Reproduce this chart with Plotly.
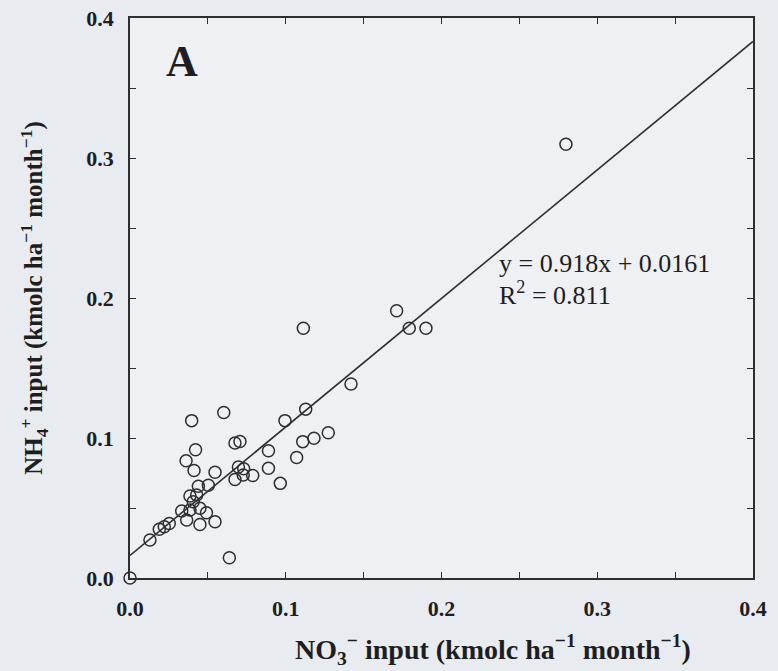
import plotly.graph_objects as go

# NO3- input (x) and NH4+ input (y), kmolc ha-1 month-1
no3_input = [0.000, 0.0128, 0.0188, 0.0220, 0.0252, 0.0332, 0.0364, 0.0385, 0.0449, 0.0449,
             0.0491, 0.0546, 0.0406, 0.0385, 0.0428, 0.0439, 0.0503, 0.0638, 0.0674, 0.0727,
             0.0788, 0.0696, 0.0730, 0.0546, 0.0411, 0.0360, 0.0421, 0.0396, 0.0602, 0.0674,
             0.0706, 0.0889, 0.0889, 0.0965, 0.1070, 0.0995, 0.1128, 0.1109, 0.1181, 0.1273,
             0.1419, 0.1113, 0.1712, 0.1793, 0.1900, 0.2799]
nh4_input = [0.000, 0.0271, 0.0348, 0.0366, 0.0389, 0.0479, 0.0414, 0.0486, 0.0382, 0.0498,
             0.0466, 0.0402, 0.0545, 0.0586, 0.0593, 0.0655, 0.0662, 0.0145, 0.0704, 0.0736,
             0.0732, 0.0793, 0.0780, 0.0755, 0.0768, 0.0838, 0.0916, 0.1124, 0.1182, 0.0964,
             0.0975, 0.0909, 0.0784, 0.0676, 0.0861, 0.1124, 0.1206, 0.0974, 0.0998, 0.1038,
             0.1386, 0.1784, 0.1909, 0.1784, 0.1784, 0.3098]

slope = 0.918
intercept = 0.0161
r_squared = 0.811
fit_x = [0.0, 0.4]
fit_y = [slope * v + intercept for v in fit_x]

tick_vals = [0.0, 0.05, 0.1, 0.15, 0.2, 0.25, 0.3, 0.35, 0.4]
tick_text = ["0.0", "", "0.1", "", "0.2", "", "0.3", "", "0.4"]

x_title = "NO<sub>3</sub><sup>−</sup> input (kmolc ha<sup>−1</sup> month<sup>−1</sup>)"
y_title = "NH<sub>4</sub><sup>+</sup> input (kmolc ha<sup>−1</sup> month<sup>−1</sup>)"

ink = "#2e2e30"
txt = "#1e1e22"
bg = "#e8ebf0"
serif = "Liberation Serif, Times New Roman, serif"

fig = go.Figure()
fig.add_trace(go.Scatter(x=fit_x, y=fit_y, mode="lines",
                         line=dict(color=ink, width=1.6), showlegend=False,
                         hoverinfo="skip"))
fig.add_trace(go.Scatter(x=no3_input, y=nh4_input, mode="markers",
                         marker=dict(symbol="circle-open", size=12, color=ink,
                                     line=dict(width=1.5, color=ink)),
                         showlegend=False, cliponaxis=False))

axis_common = dict(range=[0, 0.4], tickvals=tick_vals, ticktext=tick_text,
                   ticks="inside", ticklen=6, tickwidth=1.3, tickcolor=ink,
                   showline=True, linecolor=ink, linewidth=1.8, mirror="ticks",
                   showgrid=False, zeroline=False, automargin=False,
                   tickfont=dict(family=serif, size=22, color=txt, weight="bold"))

fig.update_xaxes(**axis_common, ticklabelstandoff=10)
fig.update_yaxes(**axis_common, ticklabelstandoff=10,
                 title=dict(text=y_title,
                            font=dict(family=serif, size=25, color=txt, weight="bold"), standoff=36))

# x-axis title (sits right of centre in the original figure)
fig.add_annotation(x=0.582, y=0, xref="paper", yref="paper", text=x_title,
                   showarrow=False, xanchor="center", yanchor="top", yshift=-50,
                   font=dict(family=serif, size=28, color=txt, weight="bold"))

fig.add_annotation(x=0.022, y=0.369, xref="x", yref="y", text="A", showarrow=False,
                   xanchor="left", yanchor="middle",
                   font=dict(family=serif, size=44, color=txt, weight="bold"))
fig.add_annotation(x=0.2355, y=0.2245, xref="x", yref="y",
                   text=f"y = {slope}x + {intercept}", showarrow=False,
                   xanchor="left", yanchor="middle",
                   font=dict(family=serif, size=26, color=txt))
fig.add_annotation(x=0.2355, y=0.2035, xref="x", yref="y",
                   text=f"R<sup>2</sup> = {r_squared}", showarrow=False,
                   xanchor="left", yanchor="middle",
                   font=dict(family=serif, size=26, color=txt))

fig.update_layout(width=778, height=671,
                  margin=dict(l=130, r=25, t=18, b=93),
                  paper_bgcolor=bg, plot_bgcolor="#eef0f4")

fig.write_html("out.html", config={"displayModeBar": False},
               post_script="document.body.style.margin='0';"
                           f"document.body.style.background='{bg}';")
